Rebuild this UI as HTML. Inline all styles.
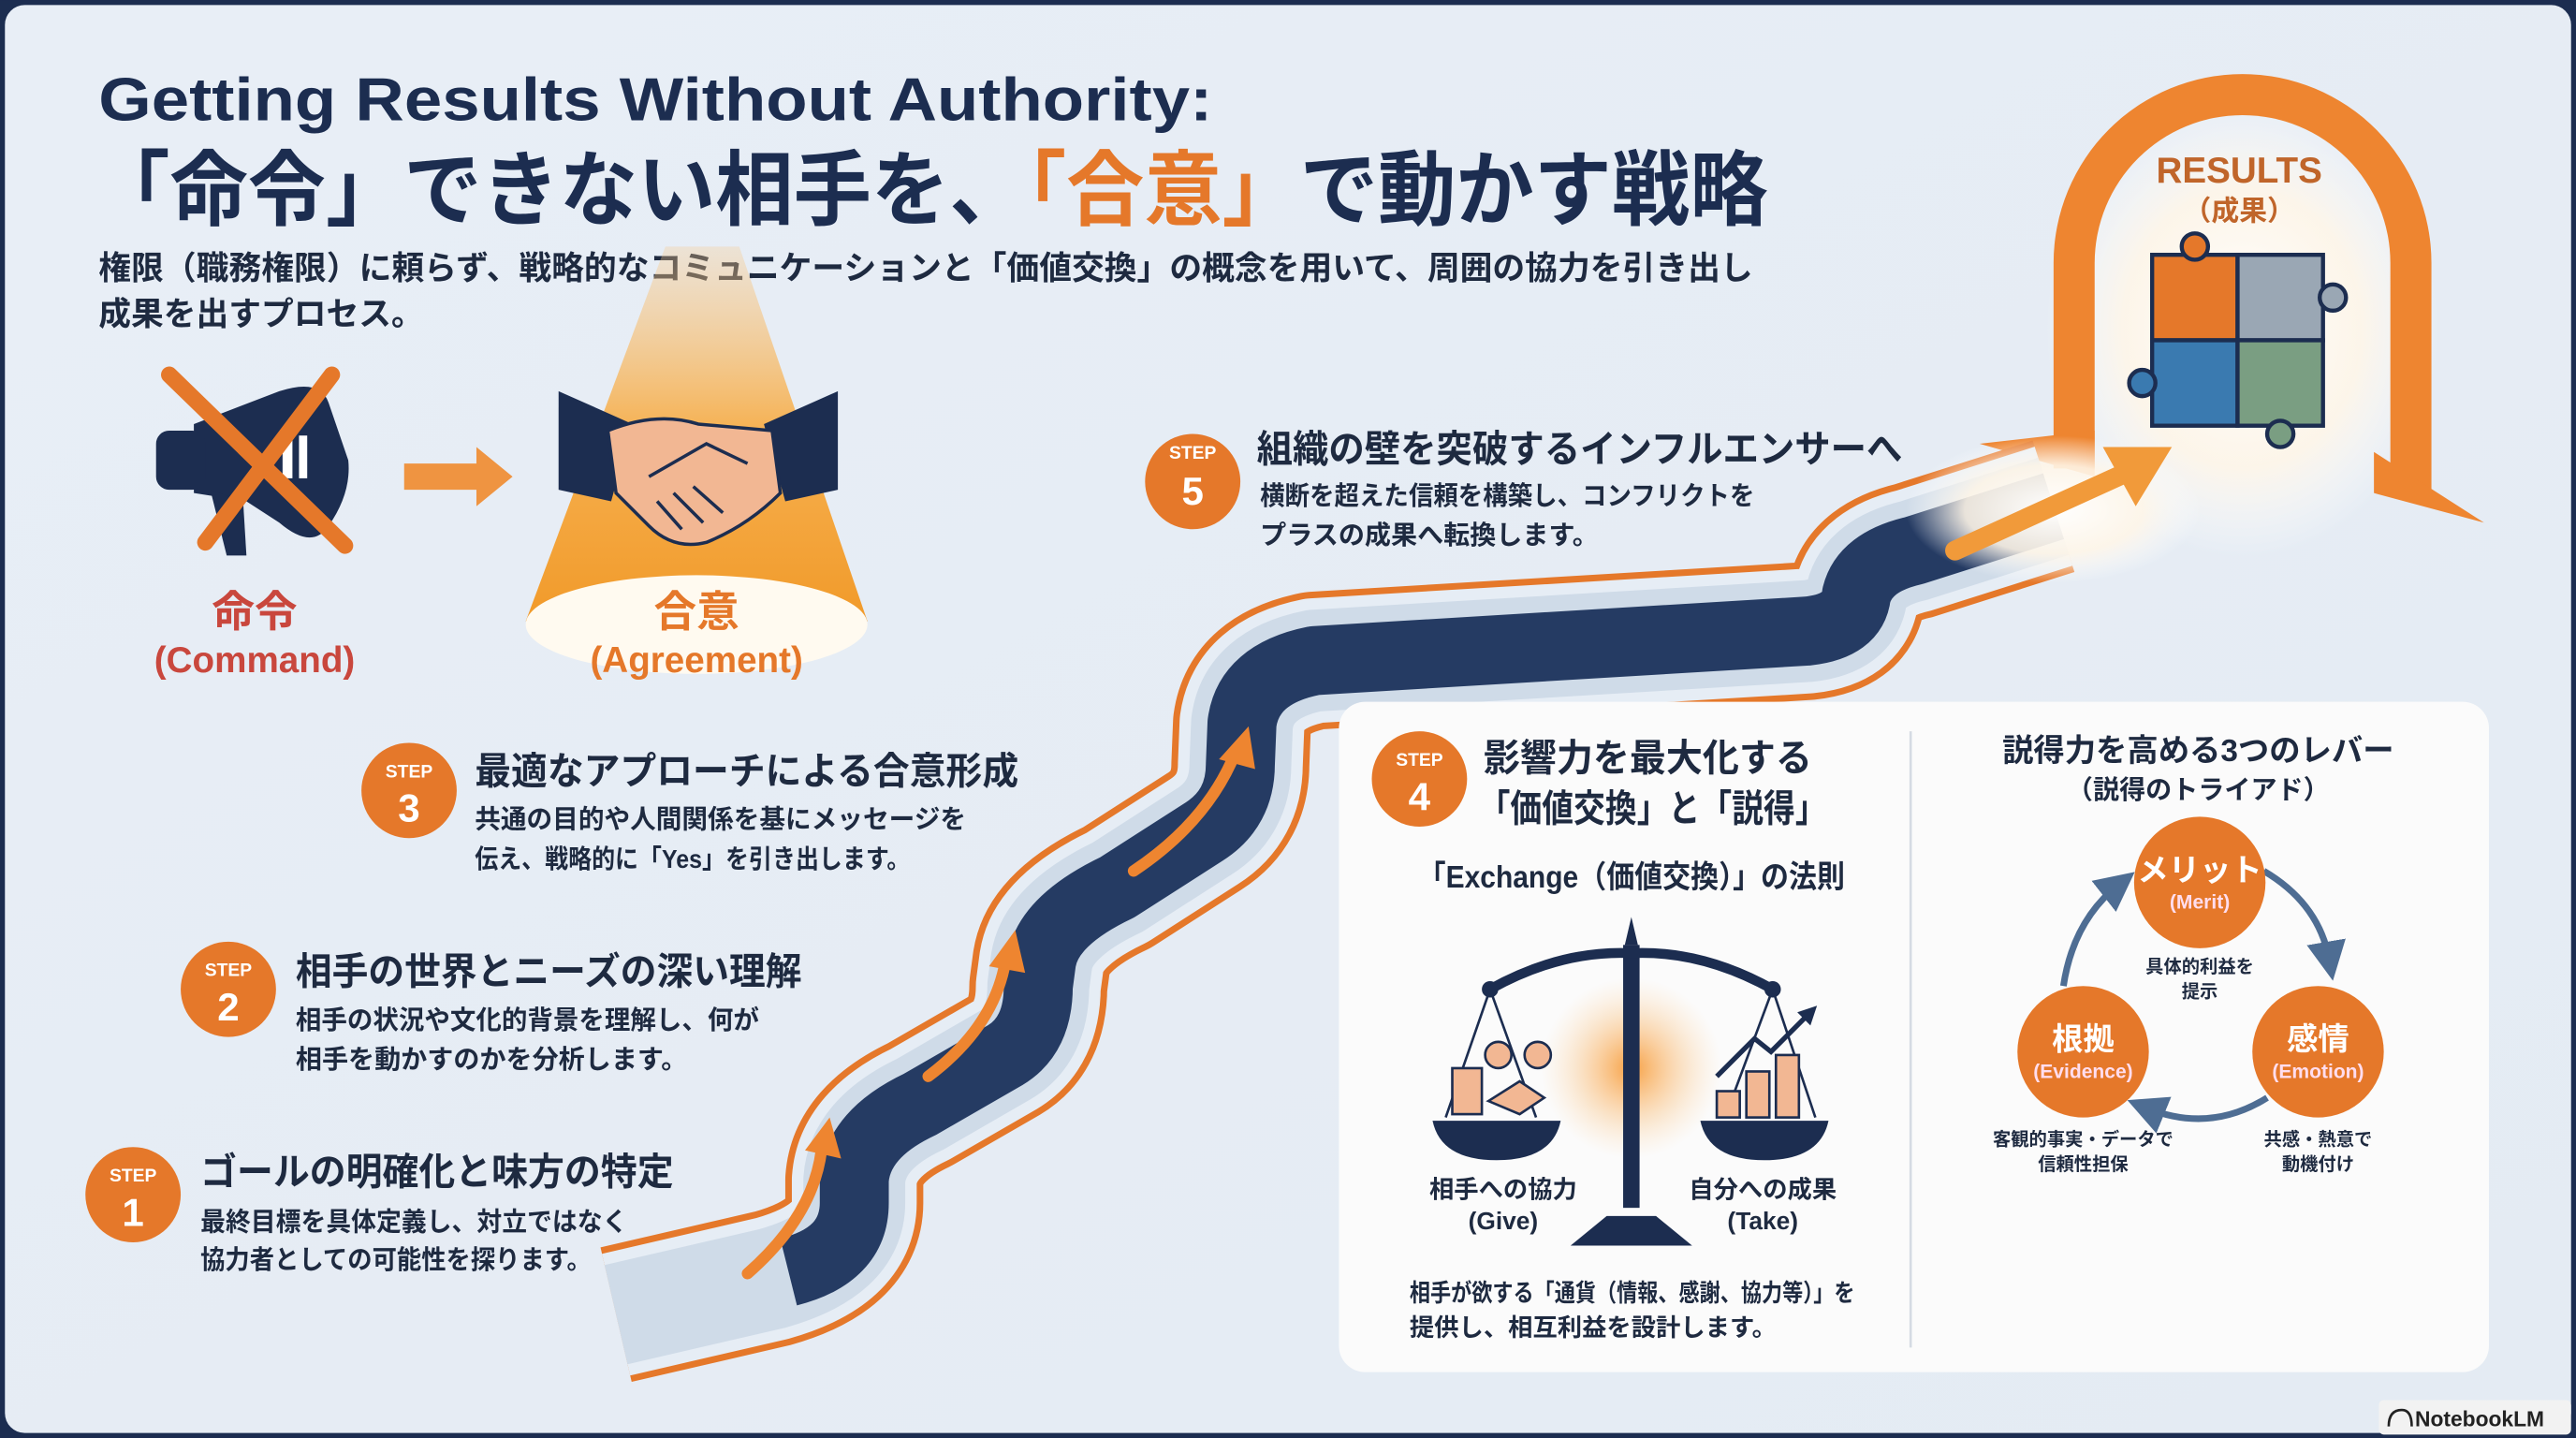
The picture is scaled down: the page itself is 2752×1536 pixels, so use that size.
<!DOCTYPE html>
<html><head><meta charset="utf-8"><style>
html,body{margin:0;padding:0;background:#1c2d50;}
svg{display:block;}
text{font-family:"Liberation Sans","Noto Sans CJK JP",sans-serif;font-weight:bold;}
</style></head><body>
<svg width="2752" height="1536" viewBox="0 0 1568 875" xmlns="http://www.w3.org/2000/svg">
<defs>
<linearGradient id="bg" x1="0" y1="0" x2="1" y2="1"><stop offset="0" stop-color="#e8eef6"/><stop offset="1" stop-color="#e4ebf3"/></linearGradient>
<linearGradient id="cone" x1="0" y1="0" x2="0" y2="1"><stop offset="0" stop-color="#f8c98a" stop-opacity="0.3"/><stop offset="0.5" stop-color="#f6b04f"/><stop offset="1" stop-color="#f19a2a"/></linearGradient>
<radialGradient id="glow" cx="0.5" cy="0.5" r="0.5"><stop offset="0" stop-color="#fff" stop-opacity="1"/><stop offset="0.6" stop-color="#fff6e8" stop-opacity="0.9"/><stop offset="1" stop-color="#fff" stop-opacity="0"/></radialGradient>
<radialGradient id="oglow" cx="0.5" cy="0.5" r="0.5"><stop offset="0" stop-color="#f7962e" stop-opacity="0.9"/><stop offset="1" stop-color="#fbd7a8" stop-opacity="0"/></radialGradient>
<marker id="ah" markerWidth="6" markerHeight="6" refX="3" refY="3" orient="auto"><path d="M0,0 L6,3 L0,6 z" fill="#4e6d93"/></marker>
<path id="st" d="M375,800 L470,778 Q520,764 520,732 L520,718 Q522,690 560,672 L612,642 Q632,630 632,600 L634,585 Q638,560 680,540 L733,506 Q755,492 755,465 L756,440 Q760,410 800,402 L1100,384 Q1128,381 1130,362 Q1135,342 1165,335 L1250,308"/>
<path id="st2" d="M480,774 Q520,764 520,732 L520,718 Q522,690 560,672 L612,642 Q632,630 632,600 L634,585 Q638,560 680,540 L733,506 Q755,492 755,465 L756,440 Q760,410 800,402 L1100,384 Q1128,381 1130,362 Q1135,342 1165,335 L1250,308"/>
</defs>
<rect x="0" y="0" width="1568" height="875" fill="#1c2d50"/>
<rect x="3" y="3" width="1562" height="869" rx="12" fill="url(#bg)"/>

<text x="60" y="73" font-size="37" fill="#1c2d50" textLength="678" lengthAdjust="spacingAndGlyphs">Getting Results Without Authority:</text>
<text x="56" y="133" font-size="50" fill="#1c2d50" textLength="1020" lengthAdjust="spacingAndGlyphs">「命令」できない相手を、<tspan fill="#e5782a">「合意」</tspan>で動かす戦略</text>
<text x="60" y="170" font-size="20" fill="#1e2a40" textLength="1007" lengthAdjust="spacingAndGlyphs">権限（職務権限）に頼らず、戦略的なコミュニケーションと「価値交換」の概念を用いて、周囲の協力を引き出し</text>
<text x="60" y="198" font-size="20" fill="#1e2a40" textLength="198" lengthAdjust="spacingAndGlyphs">成果を出すプロセス。</text>

<g>
<path d="M118,258 L170,238 Q195,230 200,245 L212,280 Q214,300 200,320 Q190,335 170,318 L150,305 L118,300 Z" fill="#1c2d50"/>
<rect x="95" y="262" width="30" height="36" rx="8" fill="#1c2d50"/>
<path d="M128,298 L138,338 L150,338 L148,305 Z" fill="#1c2d50"/>
<rect x="172" y="265" width="6" height="26" fill="#fff"/><rect x="182" y="265" width="5" height="26" fill="#fff"/>
<line x1="103" y1="228" x2="210" y2="332" stroke="#e5782a" stroke-width="10" stroke-linecap="round"/>
<line x1="202" y1="228" x2="125" y2="330" stroke="#e5782a" stroke-width="10" stroke-linecap="round"/>
</g>
<text x="155" y="381" font-size="26" fill="#c9473d" text-anchor="middle">命令</text>
<text x="155" y="409" font-size="22" fill="#c9473d" text-anchor="middle" font-weight="normal">(Command)</text>
<path d="M246,282 L290,282 L290,272 L312,290 L290,308 L290,298 L246,298 Z" fill="#ef8a2e" opacity="0.9"/>

<path d="M405,150 L450,150 L528,378 L320,378 Z" fill="url(#cone)"/>
<ellipse cx="424" cy="380" rx="104" ry="30" fill="#fffaf0"/>
<g>
<path d="M340,238 L385,258 L372,305 L340,298 Z" fill="#1c2d50"/>
<path d="M510,238 L465,258 L478,305 L510,298 Z" fill="#1c2d50"/>
<path d="M370,262 Q400,250 425,258 L470,262 L475,300 Q455,320 430,330 Q410,335 395,320 L375,300 Z" fill="#f2b793" stroke="#1c2d50" stroke-width="2"/>
<path d="M395,290 L430,270 L455,282" fill="none" stroke="#1c2d50" stroke-width="2"/>
<path d="M400,305 L415,322 M410,300 L428,318 M422,296 L440,312" stroke="#1c2d50" stroke-width="2"/>
</g>
<text x="424" y="381" font-size="26" fill="#e5782a" text-anchor="middle">合意</text>
<text x="424" y="409" font-size="22" fill="#e5782a" text-anchor="middle" font-weight="normal">(Agreement)</text>

<ellipse cx="1365" cy="200" rx="120" ry="140" fill="url(#glow)"/>
<path d="M1250,285 L1250,160 A115,115 0 0 1 1480,160 L1480,300 L1455,300 L1455,160 A90,90 0 0 0 1275,160 L1275,285 Z" fill="#ee8530"/>
<path d="M1205,270 L1275,262 L1275,290 Z" fill="#ee8530"/>
<path d="M1445,275 L1512,318 L1445,300 Z" fill="#ee8530"/>
<text x="1363" y="111" font-size="22" fill="#c0652a" text-anchor="middle">RESULTS</text>
<text x="1363" y="134" font-size="17" fill="#c0652a" text-anchor="middle">（成果）</text>
<g stroke="#1c2d50" stroke-width="2.5">
<rect x="1310" y="155" width="52" height="52" fill="#e5782a"/>
<rect x="1362" y="155" width="52" height="52" fill="#9aa7b4"/>
<rect x="1310" y="207" width="52" height="52" fill="#3a7ab0"/>
<rect x="1362" y="207" width="52" height="52" fill="#7a9e82"/>
<circle cx="1336" cy="150" r="8" fill="#e5782a"/>
<circle cx="1420" cy="181" r="8" fill="#9aa7b4"/>
<circle cx="1304" cy="233" r="8" fill="#3a7ab0"/>
<circle cx="1388" cy="264" r="8" fill="#7a9e82"/>
</g>

<g fill="none" stroke-linejoin="round">
<use href="#st" stroke="#e5782a" stroke-width="84"/>
<use href="#st" stroke="#e6edf5" stroke-width="76"/>
<use href="#st" stroke="#cfdbe8" stroke-width="62"/>
<use href="#st2" stroke="#253b63" stroke-width="42"/>
</g>
<ellipse cx="1250" cy="310" rx="90" ry="45" fill="url(#glow)"/>
<g fill="none" stroke="#ee8530" stroke-width="7" stroke-linecap="round">
<path d="M455,775 Q495,740 500,700"/><path d="M565,655 Q605,625 612,585"/><path d="M690,530 Q735,500 752,458"/>
</g>
<g fill="#ee8530">
<path d="M490,700 L505,680 L512,705 Z"/><path d="M602,588 L618,566 L624,592 Z"/><path d="M742,462 L760,442 L764,468 Z"/>
</g>
<path d="M1190,335 L1300,285" stroke="#f19a3a" stroke-width="12" stroke-linecap="round"/>
<path d="M1280,272 L1322,272 L1300,308 Z" fill="#f19a3a"/>

<circle cx="726" cy="293" r="29" fill="#e5782a"/>
<text x="726" y="279" font-size="11" fill="#fff" text-anchor="middle">STEP</text>
<text x="726" y="307" font-size="24" fill="#fff" text-anchor="middle">5</text>
<text x="765" y="281" font-size="23" fill="#1e2a40" textLength="393" lengthAdjust="spacingAndGlyphs">組織の壁を突破するインフルエンサーへ</text>
<text x="767" y="307" font-size="16" fill="#1e2a40" textLength="301" lengthAdjust="spacingAndGlyphs">横断を超えた信頼を構築し、コンフリクトを</text>
<text x="767" y="331" font-size="16" fill="#1e2a40">プラスの成果へ転換します。</text>

<circle cx="249" cy="481" r="29" fill="#e5782a"/>
<text x="249" y="473" font-size="11" fill="#fff" text-anchor="middle">STEP</text>
<text x="249" y="500" font-size="24" fill="#fff" text-anchor="middle">3</text>
<text x="289" y="477" font-size="23" fill="#1e2a40" textLength="331" lengthAdjust="spacingAndGlyphs">最適なアプローチによる合意形成</text>
<text x="289" y="504" font-size="16" fill="#1e2a40" textLength="299" lengthAdjust="spacingAndGlyphs">共通の目的や人間関係を基にメッセージを</text>
<text x="289" y="528" font-size="16" fill="#1e2a40" textLength="265" lengthAdjust="spacingAndGlyphs">伝え、戦略的に「Yes」を引き出します。</text>

<circle cx="139" cy="602" r="29" fill="#e5782a"/>
<text x="139" y="594" font-size="11" fill="#fff" text-anchor="middle">STEP</text>
<text x="139" y="621" font-size="24" fill="#fff" text-anchor="middle">2</text>
<text x="180" y="599" font-size="23" fill="#1e2a40" textLength="308" lengthAdjust="spacingAndGlyphs">相手の世界とニーズの深い理解</text>
<text x="180" y="626" font-size="16" fill="#1e2a40" textLength="282" lengthAdjust="spacingAndGlyphs">相手の状況や文化的背景を理解し、何が</text>
<text x="180" y="650" font-size="16" fill="#1e2a40">相手を動かすのかを分析します。</text>

<circle cx="81" cy="727" r="29" fill="#e5782a"/>
<text x="81" y="719" font-size="11" fill="#fff" text-anchor="middle">STEP</text>
<text x="81" y="746" font-size="24" fill="#fff" text-anchor="middle">1</text>
<text x="122" y="721" font-size="23" fill="#1e2a40" textLength="288" lengthAdjust="spacingAndGlyphs">ゴールの明確化と味方の特定</text>
<text x="122" y="749" font-size="16" fill="#1e2a40" textLength="260" lengthAdjust="spacingAndGlyphs">最終目標を具体定義し、対立ではなく</text>
<text x="122" y="772" font-size="16" fill="#1e2a40" textLength="238" lengthAdjust="spacingAndGlyphs">協力者としての可能性を探ります。</text>

<rect x="815" y="427" width="700" height="408" rx="16" fill="#fbfbfb"/>
<line x1="1163" y1="445" x2="1163" y2="820" stroke="#d5dbe3" stroke-width="1.5"/>
<circle cx="864" cy="474" r="29" fill="#e5782a"/>
<text x="864" y="466" font-size="11" fill="#fff" text-anchor="middle">STEP</text>
<text x="864" y="493" font-size="24" fill="#fff" text-anchor="middle">4</text>
<text x="903" y="469" font-size="23" fill="#1e2a40" textLength="200" lengthAdjust="spacingAndGlyphs">影響力を最大化する</text>
<text x="900" y="500" font-size="23" fill="#1e2a40" textLength="212" lengthAdjust="spacingAndGlyphs">「価値交換」と「説得」</text>
<text x="993" y="540" font-size="19" fill="#1e2a40" text-anchor="middle" textLength="260" lengthAdjust="spacingAndGlyphs">「Exchange（価値交換）」の法則</text>
<ellipse cx="993" cy="650" rx="55" ry="55" fill="url(#oglow)"/>
<path d="M989,575 L993,558 L997,575 Z" fill="#1c2d50"/>
<rect x="988" y="575" width="10" height="160" fill="#1c2d50"/>
<path d="M978,740 L1008,740 L1030,758 L956,758 Z" fill="#1c2d50"/>
<path d="M907,602 Q950,578 993,580 Q1036,578 1079,602" fill="none" stroke="#1c2d50" stroke-width="6"/>
<circle cx="907" cy="602" r="5" fill="#1c2d50"/><circle cx="1079" cy="602" r="5" fill="#1c2d50"/>
<path d="M907,602 L880,680 M907,602 L935,680 M1079,602 L1050,680 M1079,602 L1105,680" stroke="#1c2d50" stroke-width="1.5"/>
<path d="M872,682 L950,682 Q945,706 911,706 Q877,706 872,682 Z" fill="#1c2d50"/>
<path d="M1035,682 L1113,682 Q1108,706 1074,706 Q1040,706 1035,682 Z" fill="#1c2d50"/>
<rect x="884" y="650" width="18" height="28" fill="#f2b793" stroke="#1c2d50" stroke-width="1.5"/>
<circle cx="912" cy="642" r="8" fill="#f2b793" stroke="#1c2d50" stroke-width="1.5"/><circle cx="936" cy="642" r="8" fill="#f2b793" stroke="#1c2d50" stroke-width="1.5"/>
<path d="M906,670 L925,658 L940,668 L925,678 Z" fill="#f2b793" stroke="#1c2d50" stroke-width="1.5"/>
<g fill="#f2b793" stroke="#1c2d50" stroke-width="1.5"><rect x="1045" y="664" width="14" height="16"/><rect x="1063" y="652" width="14" height="28"/><rect x="1081" y="642" width="14" height="38"/></g>
<path d="M1045,655 L1068,632 L1078,640 L1100,618" fill="none" stroke="#1c2d50" stroke-width="3"/><path d="M1094,616 L1106,612 L1102,624 Z" fill="#1c2d50"/>
<text x="915" y="729" font-size="15" fill="#1e2a40" text-anchor="middle">相手への協力</text>
<text x="915" y="748" font-size="15" fill="#1e2a40" text-anchor="middle" font-weight="normal">(Give)</text>
<text x="1073" y="729" font-size="15" fill="#1e2a40" text-anchor="middle">自分への成果</text>
<text x="1073" y="748" font-size="15" fill="#1e2a40" text-anchor="middle" font-weight="normal">(Take)</text>
<text x="858" y="792" font-size="15" fill="#1e2a40" textLength="271" lengthAdjust="spacingAndGlyphs">相手が欲する「通貨（情報、感謝、協力等）」を</text>
<text x="858" y="813" font-size="15" fill="#1e2a40">提供し、相互利益を設計します。</text>

<text x="1338" y="463" font-size="19" fill="#1e2a40" text-anchor="middle">説得力を高める3つのレバー</text>
<text x="1338" y="486" font-size="16" fill="#1e2a40" text-anchor="middle">（説得のトライアド）</text>
<g fill="none" stroke="#4e6d93" stroke-width="4" marker-end="url(#ah)">
<path d="M1378,530 Q1412,550 1418,585"/>
<path d="M1380,668 Q1345,690 1306,674"/>
<path d="M1256,600 Q1262,560 1290,538"/>
</g>
<circle cx="1339" cy="537" r="40" fill="#e5782a"/>
<text x="1339" y="536" font-size="19" fill="#fff" text-anchor="middle">メリット</text>
<text x="1339" y="553" font-size="12" fill="#fde" text-anchor="middle" font-weight="normal">(Merit)</text>
<circle cx="1268" cy="640" r="40" fill="#e5782a"/>
<text x="1268" y="639" font-size="19" fill="#fff" text-anchor="middle">根拠</text>
<text x="1268" y="656" font-size="12" fill="#fde" text-anchor="middle" font-weight="normal">(Evidence)</text>
<circle cx="1411" cy="640" r="40" fill="#e5782a"/>
<text x="1411" y="639" font-size="19" fill="#fff" text-anchor="middle">感情</text>
<text x="1411" y="656" font-size="12" fill="#fde" text-anchor="middle" font-weight="normal">(Emotion)</text>
<text x="1339" y="592" font-size="11" fill="#1e2a40" text-anchor="middle">具体的利益を</text>
<text x="1339" y="607" font-size="11" fill="#1e2a40" text-anchor="middle">提示</text>
<text x="1268" y="697" font-size="11" fill="#1e2a40" text-anchor="middle">客観的事実・データで</text>
<text x="1268" y="712" font-size="11" fill="#1e2a40" text-anchor="middle">信頼性担保</text>
<text x="1411" y="697" font-size="11" fill="#1e2a40" text-anchor="middle">共感・熱意で</text>
<text x="1411" y="712" font-size="11" fill="#1e2a40" text-anchor="middle">動機付け</text>

<rect x="1448" y="852" width="117" height="21" rx="3" fill="#f2f2f2"/>
<text x="1470" y="868" font-size="13" fill="#222" font-weight="normal">NotebookLM</text>
<path d="M1454,868 Q1454,858 1462,858 Q1468,858 1468,868" fill="none" stroke="#222" stroke-width="1.5"/>
</svg>
</body></html>
